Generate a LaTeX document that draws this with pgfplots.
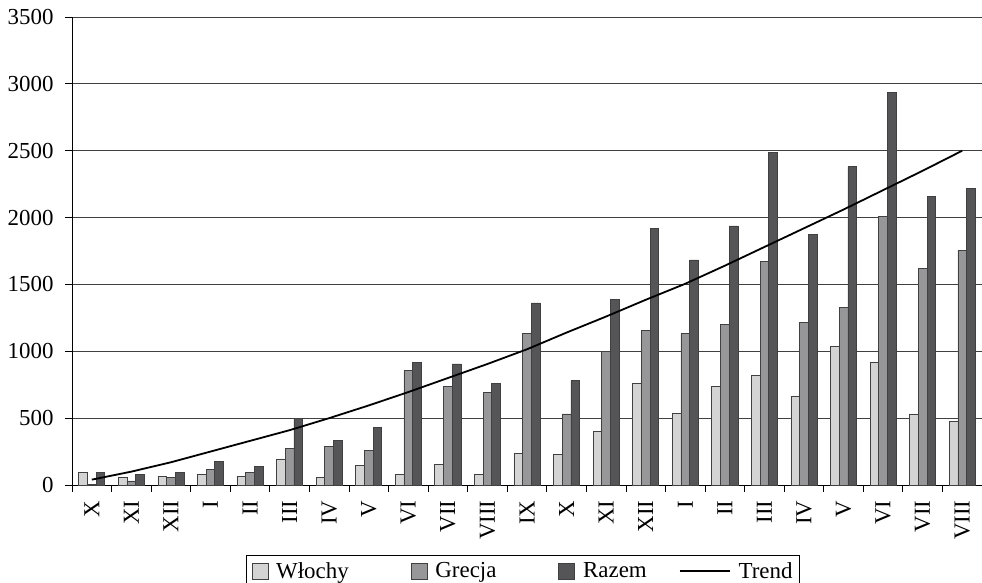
\documentclass[border=0pt]{standalone}
\usepackage{pgfplots}
\pgfplotsset{compat=1.18}
\usepackage{fontspec}
\setmainfont{Liberation Serif}
\definecolor{cW}{HTML}{D4D4D4}
\definecolor{cG}{HTML}{979799}
\definecolor{cR}{HTML}{555558}
\pgfplotsset{
  sqleg/.style={legend image code/.code={\draw[##1] (0bp,-8bp) rectangle (16bp,8bp);}},
  lnleg/.style={legend image code/.code={\draw[##1] (0bp,0bp) -- (50bp,0bp);}},
}
\pgfplotstableread{
i W G R T
0 95 3 95 40
1 57 30 80 100
2 65 57 95 170
3 77 115 177 250
4 67 95 137 330
5 195 275 500 410
6 57 290 335 500
7 145 260 430 595
8 77 855 917 695
9 155 735 905 800
10 77 692 762 905
11 235 1132 1362 1015
12 227 532 780 1140
13 403 998 1388 1260
14 762 1157 1918 1385
15 538 1132 1683 1505
16 737 1202 1937 1640
17 820 1675 2490 1780
18 662 1215 1875 1920
19 1037 1325 2380 2060
20 917 2007 2937 2205
21 532 1622 2155 2350
22 477 1757 2217 2500
}\datatab
\begin{document}
\begin{tikzpicture}
\begin{axis}[name=ax,
 scale only axis, width=910bp, height=468bp,
 ybar=0pt, bar width=8.7bp,
 xmin=-0.5, xmax=22.5, ymin=0, ymax=3500,
 ytick={0,500,...,3500},
 xtick={0,...,22},
 xticklabels={X,XI,XII,I,II,III,IV,V,VI,VII,VIII,IX,X,XI,XII,I,II,III,IV,V,VI,VII,VIII},
 minor xtick={-0.5,0.5,...,22.5},
 major x tick style={draw=none},
 tick align=outside, major tick length=7bp, minor tick length=7bp,
 tick style={black, line width=0.8bp},
 axis x line*=bottom, axis y line*=left,
 axis line style={black, line width=0.9bp},
 ymajorgrids, grid style={black!75, line width=0.9bp},
 every tick label/.append style={font=\fontsize{23}{27}\selectfont},
 x tick label style={rotate=90, anchor=east},
 xticklabel shift=5bp, yticklabel shift=8bp,
 /pgf/number format/assume math mode=true,
 /pgf/number format/1000 sep={},
 scaled y ticks=false,
 legend columns=4,
 legend cell align=left,
 legend style={at={(0.4956,-0.1496)}, anchor=north, draw=black, line width=0.8bp,
   font=\fontsize{23}{27}\selectfont, inner xsep=5bp, inner ysep=5bp,
   /tikz/every odd column/.append style={column sep=6bp},
   /tikz/every even column/.append style={column sep=30bp}},
]
\addplot[fill=cW, draw=black!75, line width=0.7bp, sqleg] table[x=i,y=W]{\datatab};
\addlegendentry{Włochy\hspace*{30bp}}
\addplot[fill=cG, draw=black!75, line width=0.7bp, sqleg] table[x=i,y=G]{\datatab};
\addlegendentry{Grecja\hspace*{30bp}}
\addplot[fill=cR, draw=black!75, line width=0.7bp, sqleg] table[x=i,y=R]{\datatab};
\addlegendentry{Razem}
\addplot[sharp plot, no marks, black, line width=1.8bp, lnleg] table[x=i,y=T]{\datatab};
\addlegendentry{Trend}
\end{axis}
\pgfresetboundingbox
\path ([shift={(-72bp,-98bp)}]ax.south west) rectangle ([shift={(0bp,17bp)}]ax.north east);
\end{tikzpicture}
\end{document}
